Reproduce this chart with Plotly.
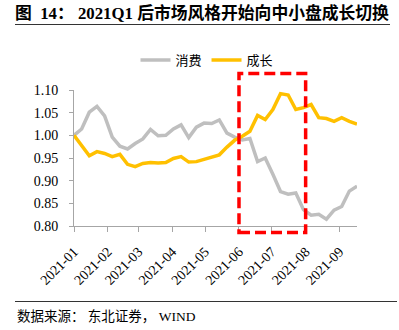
import pandas as pd
import plotly.graph_objects as go

dates = pd.date_range("2021-01-01", periods=38, freq="7D")

consumption = [1.000, 1.014, 1.051, 1.064, 1.043, 0.996, 0.976, 0.970, 0.982, 0.992,
               1.013, 0.999, 1.000, 1.014, 1.023, 0.995, 1.018, 1.027, 1.026, 1.034,
               1.005, 0.996, 0.990, 0.993, 0.942, 0.950, 0.914, 0.876, 0.870, 0.873,
               0.836, 0.824, 0.826, 0.815, 0.835, 0.843, 0.877, 0.888]
growth = [1.000, 0.978, 0.955, 0.964, 0.960, 0.953, 0.958, 0.936, 0.931, 0.938,
          0.940, 0.939, 0.940, 0.949, 0.953, 0.941, 0.942, 0.947, 0.953, 0.957,
          0.974, 0.989, 0.998, 1.009, 1.044, 1.035, 1.057, 1.092, 1.089, 1.057,
          1.061, 1.068, 1.039, 1.037, 1.031, 1.039, 1.031, 1.025]

series_names = ["消费", "成长"]
title_text = "图  14： 2021Q1 后市场风格开始向中小盘成长切换"
source_text = "数据来源： 东北证券， WIND"
highlight = ["2021-06-01", "2021-08-01"]
y_ticks = [0.80, 0.85, 0.90, 0.95, 1.00, 1.05, 1.10]

W, H = 399, 330
L, R, T, B = 74, 42, 90, 104
pw, ph = W - L - R, H - T - B

def px_x(px):
    return (px - L) / pw

def px_y(py):
    return (H - B - py) / ph

serif = "Liberation Serif, Noto Sans CJK SC, serif"
cjk = "Liberation Serif, Noto Sans CJK SC"

fig = go.Figure()
fig.add_trace(go.Scatter(x=dates, y=consumption, mode="lines", name=series_names[0],
                         line=dict(color="#bfbfbf", width=3.5)))
fig.add_trace(go.Scatter(x=dates, y=growth, mode="lines", name=series_names[1],
                         line=dict(color="#ffc000", width=3.5)))

fig.update_layout(
    width=W, height=H,
    margin=dict(l=L, r=R, t=T, b=B),
    paper_bgcolor="white", plot_bgcolor="white",
    showlegend=True,
    legend=dict(orientation="h", x=px_x(207), xanchor="center", y=px_y(60), yanchor="middle",
                font=dict(family=cjk, size=13, color="#000"), itemwidth=30,
                bgcolor="rgba(0,0,0,0)"),
    xaxis=dict(type="date", range=[dates[0], dates[-1]], tickformat="%Y-%m", dtick="M1",
               tick0="2021-01-01", tickangle=-45, showgrid=False, showline=True,
               linecolor="#a6a6a6", linewidth=1, ticks="outside", ticklen=5,
               tickcolor="#a6a6a6", tickfont=dict(family=serif, size=14, color="#000"),
               ticklabelstandoff=6, zeroline=False),
    yaxis=dict(range=[0.80, 1.10], tickvals=y_ticks, tickformat=".2f", showgrid=False,
               showline=True, linecolor="#a6a6a6", linewidth=1, ticks="outside", ticklen=4,
               tickcolor="#a6a6a6", tickfont=dict(family=serif, size=14, color="#000"),
               ticklabelstandoff=8, zeroline=False),
    title=dict(text="<b>" + title_text + "</b>", x=15 / W, xanchor="left", xref="container",
               y=1 - 13 / H, yanchor="middle", yref="container",
               font=dict(family=cjk, size=16.8, color="#000")),
)

shapes = [
    dict(type="line", xref="paper", yref="paper", x0=px_x(15), x1=px_x(390),
         y0=px_y(24.5), y1=px_y(24.5), line=dict(color="#333", width=1.2)),
    dict(type="line", xref="paper", yref="paper", x0=px_x(15), x1=px_x(397),
         y0=px_y(301.5), y1=px_y(301.5), line=dict(color="#333", width=1)),
    dict(type="rect", xref="x", yref="paper", x0=highlight[0], x1=highlight[1],
         y0=px_y(232.5), y1=px_y(73.5), line=dict(color="#ff0000", width=3.5, dash="11px,5px"),
         layer="above"),
]
fig.update_layout(shapes=shapes)
fig.add_annotation(text=source_text, xref="paper", yref="paper", x=px_x(15), y=px_y(316),
                   xanchor="left", yanchor="middle", showarrow=False,
                   font=dict(family=cjk, size=13.5, color="#000"))

fig.write_html("out.html")
